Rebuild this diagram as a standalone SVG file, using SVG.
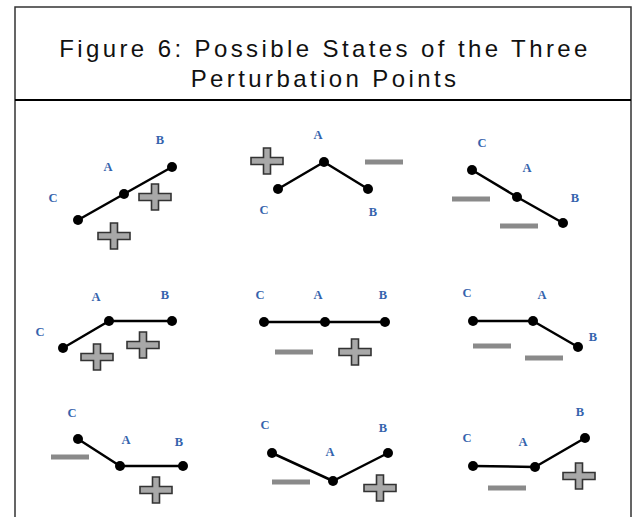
<svg xmlns="http://www.w3.org/2000/svg" width="633" height="517" viewBox="0 0 633 517">
<defs>
<style>
.frame{fill:none;stroke:#333;stroke-width:1.5}
.div{stroke:#000;stroke-width:2}
.title{font-family:"Liberation Sans",Arial,sans-serif;font-size:24px;fill:#111;text-anchor:middle;letter-spacing:3.4px}
.lbl{font-family:"Liberation Serif","Times New Roman",serif;font-size:12.5px;font-weight:bold;fill:#3563ad;text-anchor:middle}
.seg{fill:none;stroke:#000;stroke-width:2.5;stroke-linejoin:round}
.dot{fill:#000}
.minus{fill:#8a8a8a}
.plus{fill:#a8a8a8;stroke:#333;stroke-width:1.6;stroke-linejoin:miter}
</style>
<path id="plus" class="plus" d="M-16,-3.5 H-3.5 V-13 H3.5 V-3.5 H16 V3.5 H3.5 V13 H-3.5 V3.5 H-16 Z"/>
<rect id="minus" class="minus" x="-19" y="-2.5" width="38" height="5"/>
<circle id="dot" class="dot" r="5"/>
</defs>
<rect x="15" y="7" width="616" height="530" fill="#fff" class="frame"/>
<line x1="15" y1="100" x2="631" y2="100" class="div"/>
<g id="title">
<text class="title" x="325" y="57">Figure 6: Possible States of the Three</text>
<text class="title" x="325" y="87">Perturbation Points</text>
</g>
<g id="connectors">
<polyline class="seg" points="78,220 124,194 172,167"/>
<polyline class="seg" points="278,189 324,162 368,189"/>
<polyline class="seg" points="472,170 517,197 563,223"/>
<polyline class="seg" points="63,348 109,321 172,321"/>
<polyline class="seg" points="264,322 325,322 385,322"/>
<polyline class="seg" points="473,321 533,321 578,347"/>
<polyline class="seg" points="78,439 120,466 183,466"/>
<polyline class="seg" points="272,453 333,481 388,453"/>
<polyline class="seg" points="473,466 535,467 585,438"/>
</g>
<g id="panel1">
<use href="#dot" x="78" y="220"/><use href="#dot" x="124" y="194"/><use href="#dot" x="172" y="167"/>
<text class="lbl" x="160" y="144">B</text><text class="lbl" x="108" y="171">A</text><text class="lbl" x="53" y="202">C</text>
<use href="#plus" x="155" y="197"/><use href="#plus" x="114" y="236"/>
</g>
<g id="panel2">
<use href="#dot" x="278" y="189"/><use href="#dot" x="324" y="162"/><use href="#dot" x="368" y="189"/>
<text class="lbl" x="318" y="139">A</text><text class="lbl" x="264" y="214">C</text><text class="lbl" x="373" y="216">B</text>
<use href="#plus" x="267" y="161"/><use href="#minus" x="384" y="162"/>
</g>
<g id="panel3">
<use href="#dot" x="472" y="170"/><use href="#dot" x="517" y="197"/><use href="#dot" x="563" y="223"/>
<text class="lbl" x="482" y="147">C</text><text class="lbl" x="527" y="172">A</text><text class="lbl" x="575" y="202">B</text>
<use href="#minus" x="471" y="199"/><use href="#minus" x="519" y="226"/>
</g>
<g id="panel4">
<use href="#dot" x="63" y="348"/><use href="#dot" x="109" y="321"/><use href="#dot" x="172" y="321"/>
<text class="lbl" x="96" y="301">A</text><text class="lbl" x="165" y="299">B</text><text class="lbl" x="40" y="336">C</text>
<use href="#plus" x="97" y="357"/><use href="#plus" x="143" y="345"/>
</g>
<g id="panel5">
<use href="#dot" x="264" y="322"/><use href="#dot" x="325" y="322"/><use href="#dot" x="385" y="322"/>
<text class="lbl" x="260" y="299">C</text><text class="lbl" x="318" y="299">A</text><text class="lbl" x="383" y="299">B</text>
<use href="#minus" x="294" y="352"/><use href="#plus" x="355" y="352"/>
</g>
<g id="panel6">
<use href="#dot" x="473" y="321"/><use href="#dot" x="533" y="321"/><use href="#dot" x="578" y="347"/>
<text class="lbl" x="467" y="297">C</text><text class="lbl" x="542" y="299">A</text><text class="lbl" x="593" y="341">B</text>
<use href="#minus" x="492" y="346"/><use href="#minus" x="544" y="358"/>
</g>
<g id="panel7">
<use href="#dot" x="78" y="439"/><use href="#dot" x="120" y="466"/><use href="#dot" x="183" y="466"/>
<text class="lbl" x="72" y="417">C</text><text class="lbl" x="126" y="444">A</text><text class="lbl" x="179" y="446">B</text>
<use href="#minus" x="70" y="457"/><use href="#plus" x="156" y="490"/>
</g>
<g id="panel8">
<use href="#dot" x="272" y="453"/><use href="#dot" x="333" y="481"/><use href="#dot" x="388" y="453"/>
<text class="lbl" x="265" y="429">C</text><text class="lbl" x="383" y="432">B</text><text class="lbl" x="330" y="456">A</text>
<use href="#minus" x="291" y="482"/><use href="#plus" x="380" y="488"/>
</g>
<g id="panel9">
<use href="#dot" x="473" y="466"/><use href="#dot" x="535" y="467"/><use href="#dot" x="585" y="438"/>
<text class="lbl" x="580" y="416">B</text><text class="lbl" x="467" y="442">C</text><text class="lbl" x="523" y="446">A</text>
<use href="#minus" x="507" y="488"/><use href="#plus" x="579" y="476"/>
</g>
</svg>
